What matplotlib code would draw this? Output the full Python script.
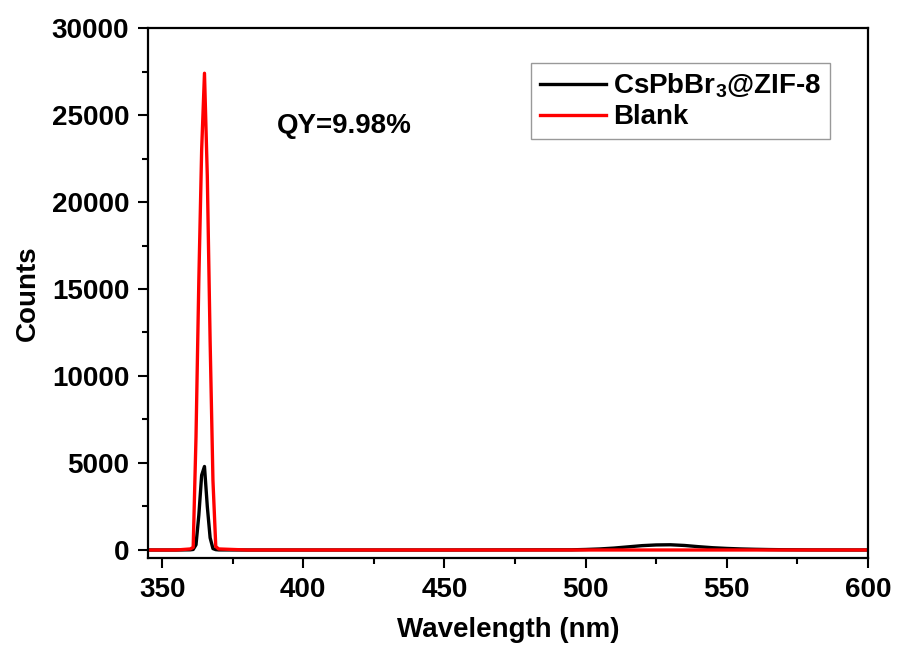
import matplotlib
matplotlib.use("Agg")
import matplotlib.pyplot as plt
from matplotlib.ticker import MultipleLocator

# wavelength grid (nm) and counts
wl_sample = [345, 355, 360, 361, 362, 363, 364, 365, 366, 367, 368, 369, 370, 380,
             450, 495, 500, 505, 510, 515, 520, 525, 530, 535, 540, 545, 550,
             555, 560, 565, 570, 580, 600]
cnt_sample = [0, 0, 10, 30, 300, 2000, 4300, 4800, 2500, 700, 80, 20, 5, 0,
              0, 10, 30, 60, 110, 180, 250, 290, 300, 260, 190, 130, 90,
              60, 40, 25, 15, 5, 0]

wl_blank = [345, 355, 360, 361, 362, 363, 364, 365, 366, 367, 368, 369, 370, 380, 600]
cnt_blank = [0, 0, 60, 150, 6500, 15500, 23000, 27400, 21500, 12000, 4000, 200, 60, 0, 0]

label_sample = r"CsPbBr$_\mathbf{3}$@ZIF-8"
label_blank = "Blank"
qy_text = "QY=9.98%"

plt.rcParams["font.family"] = ["Liberation Sans", "DejaVu Sans"]
plt.rcParams["font.weight"] = "bold"
plt.rcParams["mathtext.fontset"] = "custom"
plt.rcParams["mathtext.rm"] = "Liberation Sans:bold"
plt.rcParams["mathtext.bf"] = "Liberation Sans:bold"

fig = plt.figure(figsize=(8.97, 6.56), dpi=100)
ax = fig.add_axes([0.165, 0.1494, 0.8027, 0.8079])

ax.plot(wl_sample, cnt_sample, color="black", lw=2.4, label=label_sample)
ax.plot(wl_blank, cnt_blank, color="#ff0000", lw=2.4, label=label_blank)

ax.set_xlim(345, 600)
ax.set_ylim(-460, 30000)
ax.xaxis.set_major_locator(MultipleLocator(50))
ax.xaxis.set_minor_locator(MultipleLocator(25))
ax.yaxis.set_major_locator(MultipleLocator(5000))
ax.yaxis.set_minor_locator(MultipleLocator(2500))

ax.tick_params(which="major", direction="out", length=7.5, width=1.5,
               labelsize=20, pad=6)
ax.tick_params(which="minor", direction="out", length=4.5, width=1.5)
ax.tick_params(top=False, right=False)
for lab in ax.get_xticklabels() + ax.get_yticklabels():
    lab.set_fontweight("bold")
for sp in ax.spines.values():
    sp.set_linewidth(1.6)

ax.set_xlabel("Wavelength (nm)", fontsize=20, fontweight="bold", labelpad=10)
ax.set_ylabel("Counts", fontsize=20, fontweight="bold", labelpad=8)

ax.text(0.179, 0.815, qy_text, transform=ax.transAxes, fontsize=20,
        fontweight="bold", ha="left", va="center")

leg = ax.legend(loc="upper right", bbox_to_anchor=(0.947, 0.934), fontsize=20,
                frameon=True, fancybox=False, edgecolor="#808080",
                handlelength=2.4, handletextpad=0.25, borderpad=0.3,
                labelspacing=0.15, borderaxespad=0)
leg.get_frame().set_linewidth(1.0)
for t in leg.get_texts():
    t.set_fontweight("bold")

fig.savefig("out.png", dpi=100)
